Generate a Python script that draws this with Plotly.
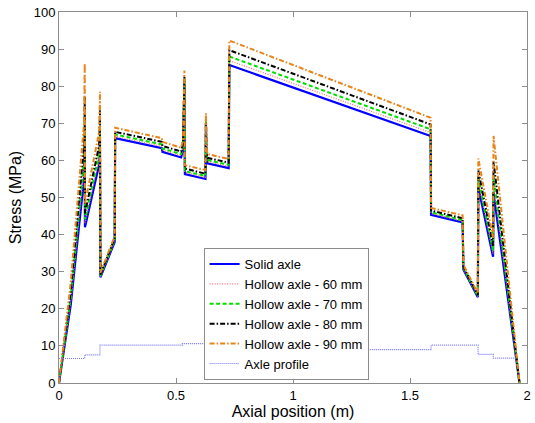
import plotly.graph_objects as go

# Axial positions (m) of stress-curve vertices (shared by all stress series)
x_pos = [0, 0.05, 0.107, 0.110, 0.111, 0.172, 0.175, 0.177, 0.238, 0.240,
         0.440, 0.442, 0.522, 0.530, 0.536, 0.538, 0.626, 0.628, 0.630, 0.634,
         0.725, 0.728, 1.588, 1.590, 1.725, 1.728, 1.790, 1.792, 1.855, 1.857, 1.968]

solid = [0, 21, 55, 66, 42, 59, 66, 28.5, 38, 66,
         63.3, 62.3, 60.8, 63, 80.5, 56.3, 55.0, 70, 61.7, 59.2,
         57.9, 85.7, 66.6, 45.3, 43.3, 30.6, 23.1, 52.7, 34.0, 51.2, 0]

hollow_60 = [0, 22, 57.6, 69.2, 43.1, 60.5, 67.7, 28.7, 38.3, 66.5,
             63.8, 62.8, 61.3, 63.5, 81.2, 56.8, 55.4, 70.6, 62.2, 59.7,
             58.4, 86.9, 67.5, 45.7, 43.6, 30.8, 23.3, 54.1, 34.9, 53.7, 0]

hollow_70 = [0, 23, 60, 72.1, 44.1, 62, 69.3, 28.9, 38.6, 67,
             64.3, 63.2, 61.7, 63.9, 81.7, 57.1, 55.8, 71.1, 62.6, 60.1,
             58.8, 88.0, 68.4, 46.0, 43.9, 31.1, 23.4, 55.3, 35.7, 55.9, 0]

hollow_80 = [0, 24.5, 64, 77, 45.7, 64.2, 73.5, 29.2, 39, 67.7,
             65, 63.9, 62.4, 64.6, 82.6, 57.8, 56.4, 71.8, 63.3, 60.7,
             59.4, 89.7, 69.7, 46.5, 44.4, 31.4, 23.7, 57.3, 37.0, 59.7, 0]

hollow_90 = [0, 27, 70, 86.2, 48.3, 67.8, 78.5, 29.7, 39.6, 68.8,
             66.0, 65.0, 63.4, 65.7, 84.2, 58.7, 57.4, 72.7, 64.4, 61.7,
             60.4, 92.3, 71.5, 47.2, 45.2, 31.9, 24.1, 60.5, 39.1, 66.6, 0]

# Axle profile (step line)
profile_x = [0, 0.110, 0.175, 0.527, 0.635, 1.590, 1.791, 1.856, 1.955]
profile_y = [6.6, 7.6, 10.2, 10.6, 9.0, 10.2, 7.7, 6.7, 6.7]

x_ticks = [0, 0.5, 1, 1.5, 2]
x_tick_labels = ["0", "0.5", "1", "1.5", "2"]
y_ticks = list(range(0, 101, 10))

series = [
    ("Solid axle", solid, dict(color="#0000FF", width=2.2, dash="solid")),
    ("Hollow axle - 60 mm", hollow_60, dict(color="#FF7070", width=1.2, dash="1px,1.5px")),
    ("Hollow axle - 70 mm", hollow_70, dict(color="#00E000", width=2, dash="4px,2.5px")),
    ("Hollow axle - 80 mm", hollow_80, dict(color="#000000", width=2, dash="5px,2px,1.5px,2px")),
    ("Hollow axle - 90 mm", hollow_90, dict(color="#E8841A", width=2, dash="5px,2px,1.5px,2px")),
]

fig = go.Figure()
for name, ys, line in series:
    fig.add_trace(go.Scatter(x=x_pos, y=ys, mode="lines", name=name, line=line))

fig.add_trace(go.Scatter(x=profile_x, y=profile_y, mode="lines", name="Axle profile",
                         line=dict(color="#7878FF", width=1.2, dash="1px,1px", shape="hv")))

axis_common = dict(showline=True, linecolor="#8c8c8c", linewidth=1, mirror="allticks",
                   ticks="inside", ticklen=5, tickcolor="#8c8c8c", showgrid=False,
                   zeroline=False, tickfont=dict(size=13, color="#000000"))

fig.update_layout(
    width=535, height=423,
    margin=dict(l=59, r=4, t=12, b=40),
    plot_bgcolor="white", paper_bgcolor="white",
    font=dict(family="Liberation Sans, Arial, sans-serif", color="#000000"),
    xaxis=dict(range=[0, 2], tickvals=x_ticks, ticktext=x_tick_labels,
               title=dict(text="Axial position (m)", font=dict(size=16), standoff=1),
               **axis_common),
    yaxis=dict(range=[0, 100], tickvals=y_ticks,
               title=dict(text="Stress (MPa)", font=dict(size=16), standoff=8),
               **axis_common),
    legend=dict(x=0.309, y=0.008, xanchor="left", yanchor="bottom",
                bgcolor="white", bordercolor="#8c8c8c", borderwidth=1,
                font=dict(size=13), tracegroupgap=0),
    showlegend=True,
)

fig.write_html("out.html")
